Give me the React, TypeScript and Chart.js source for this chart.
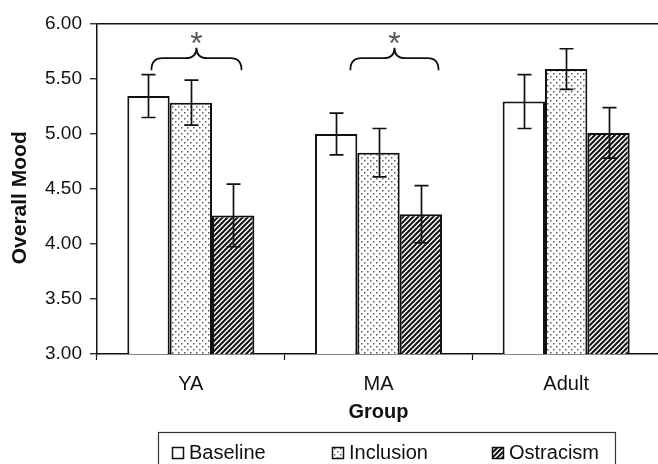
import React, { useEffect, useRef } from "react";
import { Chart, registerables } from "chart.js";

Chart.register(...registerables);

// ---- data ----
const categories = ["YA", "MA", "Adult"];
const seriesNames = ["Baseline", "Inclusion", "Ostracism"];
const baselineValues = [5.345, 5.0, 5.295];
const inclusionValues = [5.285, 4.83, 5.59];
const ostracismValues = [4.26, 4.27, 5.01];
const baselineErrors = [0.195, 0.19, 0.245];
const inclusionErrors = [0.205, 0.22, 0.185];
const ostracismErrors = [0.285, 0.26, 0.23];
const yMin = 3;
const yMax = 6;
const yStep = 0.5;
const xTitle = "Group";
const yTitle = "Overall Mood";
// significance braces (category index, extent in category units, marker)
const braceCategories = [0, 1];
const braceFrom = [-0.21, -0.15];
const braceTo = [0.27, 0.32];
const braceMarker = "*";

const FONT = "'Liberation Sans', Arial, Helvetica, sans-serif";

function makeDots(): CanvasPattern | string {
  const c = document.createElement("canvas");
  c.width = 6;
  c.height = 6;
  const g = c.getContext("2d");
  if (!g) return "#ddd";
  g.fillStyle = "#fff";
  g.fillRect(0, 0, 6, 6);
  g.fillStyle = "#5a5a5a";
  g.fillRect(1, 1, 1.5, 1.5);
  g.fillRect(4, 4, 1.5, 1.5);
  return g.createPattern(c, "repeat") as CanvasPattern;
}

function makeHatch(): CanvasPattern | string {
  const s = 5;
  const c = document.createElement("canvas");
  c.width = s;
  c.height = s;
  const g = c.getContext("2d");
  if (!g) return "#333";
  g.fillStyle = "#fff";
  g.fillRect(0, 0, s, s);
  g.strokeStyle = "#151515";
  g.lineWidth = 2.1;
  g.beginPath();
  g.moveTo(-1, s + 1);
  g.lineTo(s + 1, -1);
  g.moveTo(-2, 2);
  g.lineTo(2, -2);
  g.moveTo(s - 2, s + 2);
  g.lineTo(s + 2, s - 2);
  g.stroke();
  return g.createPattern(c, "repeat") as CanvasPattern;
}

const errorBarPlugin = {
  id: "errorBars",
  afterDatasetsDraw(chart: any) {
    const ctx = chart.ctx;
    const yScale = chart.scales.y;
    ctx.save();
    ctx.strokeStyle = "#111";
    ctx.lineWidth = 1.7;
    chart.data.datasets.forEach((ds: any, di: number) => {
      const meta = chart.getDatasetMeta(di);
      meta.data.forEach((bar: any, i: number) => {
        const v = ds.data[i];
        const e = ds.errors[i];
        const x = Math.round(bar.x) + 0.5;
        const yt = yScale.getPixelForValue(v + e);
        const yb = yScale.getPixelForValue(v - e);
        const cap = 7;
        ctx.beginPath();
        ctx.moveTo(x, yt);
        ctx.lineTo(x, yb);
        ctx.moveTo(x - cap, yt);
        ctx.lineTo(x + cap, yt);
        ctx.moveTo(x - cap, yb);
        ctx.lineTo(x + cap, yb);
        ctx.stroke();
      });
    });
    ctx.restore();
  },
};

const bracePlugin = {
  id: "braces",
  afterDatasetsDraw(chart: any) {
    const ctx = chart.ctx;
    const xs = chart.scales.x;
    const ys = chart.scales.y;
    const width = xs.getPixelForValue(1) - xs.getPixelForValue(0);
    ctx.save();
    braceCategories.forEach((ci, k) => {
      const c = xs.getPixelForValue(ci);
      const x1 = c + braceFrom[k] * width;
      const x2 = c + braceTo[k] * width;
      const xm = (x1 + x2) / 2;
      const yEnd = ys.getPixelForValue(5.58);
      const yMid = ys.getPixelForValue(5.69);
      const yPeak = ys.getPixelForValue(5.785);
      const r = 11;
      ctx.strokeStyle = "#111";
      ctx.lineWidth = 1.8;
      ctx.beginPath();
      ctx.moveTo(x1, yEnd);
      ctx.quadraticCurveTo(x1, yMid, x1 + r, yMid);
      ctx.lineTo(xm - r, yMid);
      ctx.quadraticCurveTo(xm, yMid, xm, yPeak);
      ctx.quadraticCurveTo(xm, yMid, xm + r, yMid);
      ctx.lineTo(x2 - r, yMid);
      ctx.quadraticCurveTo(x2, yMid, x2, yEnd);
      ctx.stroke();
      ctx.fillStyle = "#555";
      ctx.font = `32px ${FONT}`;
      ctx.textAlign = "center";
      ctx.textBaseline = "alphabetic";
      ctx.fillText(braceMarker, xm, ys.getPixelForValue(5.85) + 13);
    });
    ctx.restore();
  },
};

const legendPlugin = {
  id: "boxLegend",
  afterDraw(chart: any) {
    const ctx = chart.ctx;
    const left = 158;
    const top = 432;
    const right = 615;
    ctx.save();
    ctx.strokeStyle = "#333";
    ctx.lineWidth = 1.2;
    ctx.strokeRect(left + 0.5, top + 0.5, right - left, 60);
    ctx.font = `20px ${FONT}`;
    ctx.textBaseline = "middle";
    ctx.textAlign = "left";
    chart.data.datasets.forEach((ds: any, i: number) => {
      const x = 172 + i * 160;
      const y = 453;
      ctx.fillStyle = ds.backgroundColor;
      ctx.fillRect(x, y - 6, 12, 12);
      ctx.strokeStyle = "#111";
      ctx.lineWidth = 1.5;
      ctx.strokeRect(x + 0.5, y - 5.5, 11, 11);
      ctx.fillStyle = "#111";
      ctx.fillText(ds.label, x + 17, y);
    });
    ctx.restore();
  },
};

export default function App() {
  const ref = useRef<HTMLCanvasElement>(null);

  useEffect(() => {
    if (!ref.current) return;
    const fills = ["#ffffff", makeDots(), makeHatch()];
    const values = [baselineValues, inclusionValues, ostracismValues];
    const errors = [baselineErrors, inclusionErrors, ostracismErrors];
    const chart = new Chart(ref.current, {
      type: "bar",
      data: {
        labels: categories,
        datasets: seriesNames.map((name, i) => ({
          label: name,
          data: values[i],
          errors: errors[i],
          backgroundColor: fills[i],
          borderColor: "#111",
          borderWidth: 2,
          categoryPercentage: 0.677,
          barPercentage: 1,
        })) as any,
      },
      options: {
        responsive: false,
        animation: false,
        devicePixelRatio: 1,
        layout: { padding: { left: 0, top: 24, right: 4, bottom: 40 } },
        plugins: {
          legend: { display: false },
          tooltip: { enabled: false },
        },
        scales: {
          x: {
            grid: {
              display: true,
              drawOnChartArea: false,
              offset: true,
              tickLength: 6,
              tickColor: "#111",
              tickWidth: 1.2,
            },
            border: { display: true, color: "#111", width: 1.5 },
            ticks: {
              color: "#111",
              font: { family: FONT, size: 20 },
              padding: 12,
            },
            title: {
              display: true,
              text: xTitle,
              color: "#111",
              font: { family: FONT, size: 20, weight: "bold" },
              padding: 0,
            },
            afterFit(scale: any) {
              scale.height = 70;
            },
          },
          y: {
            min: yMin,
            max: yMax,
            ticks: {
              stepSize: yStep,
              color: "#111",
              font: { family: FONT, size: 19 },
              padding: 8,
              callback: (v: any) => Number(v).toFixed(2),
            },
            grid: {
              display: true,
              drawOnChartArea: true,
              color: (c: any) =>
                c.tick && c.tick.value === yMax ? "#111" : "rgba(0,0,0,0)",
              lineWidth: 1.5,
              tickLength: 7,
              tickColor: "#111",
              tickWidth: 1.2,
            },
            border: { display: true, color: "#111", width: 1.5 },
            title: {
              display: true,
              text: yTitle + "   ",
              color: "#111",
              font: { family: FONT, size: 21, weight: "bold" },
              padding: { top: 8, bottom: 0 },
            },
            afterFit(scale: any) {
              scale.width = 97;
            },
          },
        },
      },
      plugins: [errorBarPlugin, bracePlugin, legendPlugin],
    });
    return () => chart.destroy();
  }, []);

  return (
    <div
      style={{
        position: "absolute",
        left: 0,
        top: 0,
        width: 658,
        height: 464,
        overflow: "hidden",
        background: "#fff",
      }}
    >
      <canvas ref={ref} width={664} height={464} style={{ display: "block" }} />
    </div>
  );
}
